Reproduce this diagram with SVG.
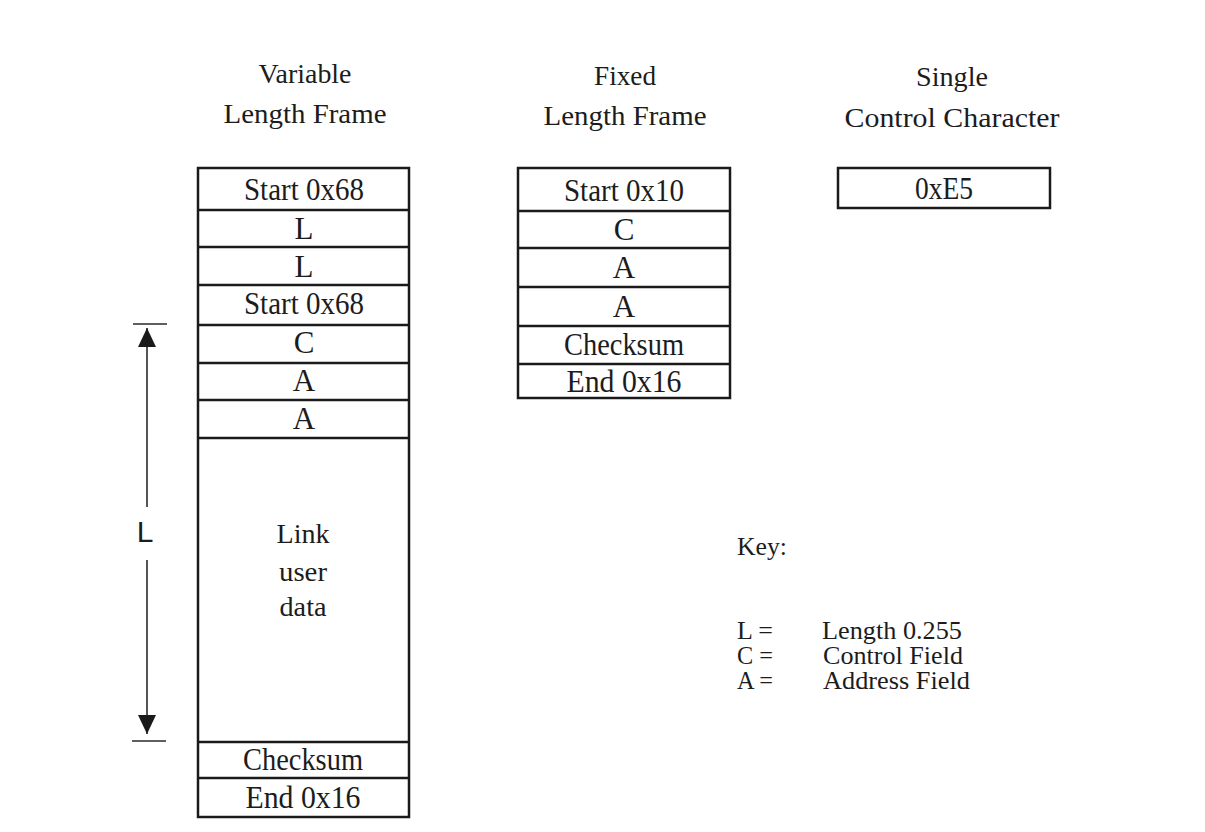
<svg xmlns="http://www.w3.org/2000/svg" width="1205" height="832" viewBox="0 0 1205 832">
  <style>
    .frame { fill: #ffffff; stroke: #1a1a1a; stroke-width: 2.5; }
    .div { stroke: #1a1a1a; stroke-width: 2.4; fill: none; }
    .t { font-family: "Liberation Serif", "Times New Roman", serif; fill: #1c1c1c; text-anchor: middle; }
    .title { font-size: 28px; }
    .cell { font-size: 31px; }
    .data { font-size: 27px; }
    .key { font-family: "Liberation Serif", "Times New Roman", serif; fill: #1c1c1c; font-size: 25px; }
    .dim { stroke: #2a2a2a; stroke-width: 1.6; fill: none; }
  </style>
  <defs>
    <marker id="head" viewBox="0 0 19 18" refX="19" refY="9" markerWidth="19" markerHeight="18" markerUnits="userSpaceOnUse" orient="auto">
      <path d="M0,0 L19,9 L0,18 Z" fill="#1a1a1a"/>
    </marker>
  </defs>

  <rect width="1205" height="832" fill="#ffffff"/>

  <!-- Column titles -->
  <g id="title-variable">
    <text class="t title" x="305" y="83" textLength="93" lengthAdjust="spacingAndGlyphs">Variable</text>
    <text class="t title" x="305" y="123" textLength="163" lengthAdjust="spacingAndGlyphs">Length Frame</text>
  </g>
  <g id="title-fixed">
    <text class="t title" x="625" y="85" textLength="62" lengthAdjust="spacingAndGlyphs">Fixed</text>
    <text class="t title" x="625" y="125" textLength="163" lengthAdjust="spacingAndGlyphs">Length Frame</text>
  </g>
  <g id="title-single">
    <text class="t title" x="952" y="86" textLength="72" lengthAdjust="spacingAndGlyphs">Single</text>
    <text class="t title" x="952" y="127" textLength="215" lengthAdjust="spacingAndGlyphs">Control Character</text>
  </g>

  <!-- Variable length frame -->
  <g id="variable-frame">
    <rect class="frame" x="198" y="168" width="211" height="649"/>
    <line class="div" x1="198" y1="210" x2="409" y2="210"/>
    <line class="div" x1="198" y1="247" x2="409" y2="247"/>
    <line class="div" x1="198" y1="285" x2="409" y2="285"/>
    <line class="div" x1="198" y1="325" x2="409" y2="325"/>
    <line class="div" x1="198" y1="363" x2="409" y2="363"/>
    <line class="div" x1="198" y1="400" x2="409" y2="400"/>
    <line class="div" x1="198" y1="438" x2="409" y2="438"/>
    <line class="div" x1="198" y1="742" x2="409" y2="742"/>
    <line class="div" x1="198" y1="778" x2="409" y2="778"/>
    <text class="t cell" x="304" y="200" textLength="120" lengthAdjust="spacingAndGlyphs">Start 0x68</text>
    <text class="t cell" x="304" y="239">L</text>
    <text class="t cell" x="304" y="277">L</text>
    <text class="t cell" x="304" y="314" textLength="120" lengthAdjust="spacingAndGlyphs">Start 0x68</text>
    <text class="t cell" x="304" y="353">C</text>
    <text class="t cell" x="304" y="391">A</text>
    <text class="t cell" x="304" y="429">A</text>
    <text class="t data" x="303" y="543" textLength="53" lengthAdjust="spacingAndGlyphs">Link</text>
    <text class="t data" x="303" y="581" textLength="48" lengthAdjust="spacingAndGlyphs">user</text>
    <text class="t data" x="303" y="616" textLength="47" lengthAdjust="spacingAndGlyphs">data</text>
    <text class="t cell" x="303" y="770" textLength="120" lengthAdjust="spacingAndGlyphs">Checksum</text>
    <text class="t cell" x="303" y="808" textLength="115" lengthAdjust="spacingAndGlyphs">End 0x16</text>
  </g>

  <!-- Fixed length frame -->
  <g id="fixed-frame">
    <rect class="frame" x="518" y="168" width="212" height="230"/>
    <line class="div" x1="518" y1="211" x2="730" y2="211"/>
    <line class="div" x1="518" y1="248" x2="730" y2="248"/>
    <line class="div" x1="518" y1="287" x2="730" y2="287"/>
    <line class="div" x1="518" y1="326" x2="730" y2="326"/>
    <line class="div" x1="518" y1="364" x2="730" y2="364"/>
    <text class="t cell" x="624" y="201" textLength="120" lengthAdjust="spacingAndGlyphs">Start 0x10</text>
    <text class="t cell" x="624" y="240">C</text>
    <text class="t cell" x="624" y="278">A</text>
    <text class="t cell" x="624" y="317">A</text>
    <text class="t cell" x="624" y="355" textLength="120" lengthAdjust="spacingAndGlyphs">Checksum</text>
    <text class="t cell" x="624" y="392" textLength="115" lengthAdjust="spacingAndGlyphs">End 0x16</text>
  </g>

  <!-- Single control character -->
  <g id="single-char">
    <rect class="frame" x="838" y="168" width="212" height="40"/>
    <text class="t cell" x="944" y="199" textLength="58" lengthAdjust="spacingAndGlyphs">0xE5</text>
  </g>

  <!-- Length span of the variable frame -->
  <g id="length-span">
    <line class="dim" x1="133" y1="324" x2="167" y2="324"/>
    <line class="dim" x1="132" y1="741" x2="166" y2="741"/>
    <line class="dim" x1="147" y1="507" x2="147" y2="328" marker-end="url(#head)"/>
    <line class="dim" x1="147" y1="560" x2="147" y2="734" marker-end="url(#head)"/>
    <text x="145" y="542" font-family="Liberation Sans, Arial, sans-serif" font-size="30" fill="#1c1c1c" text-anchor="middle">L</text>
  </g>

  <!-- Key -->
  <g id="key">
    <text class="key" x="737" y="555" textLength="50" lengthAdjust="spacingAndGlyphs">Key:</text>
    <text class="key" x="737" y="639" textLength="36" lengthAdjust="spacingAndGlyphs">L =</text>
    <text class="key" x="822" y="639" textLength="140" lengthAdjust="spacingAndGlyphs">Length 0.255</text>
    <text class="key" x="737" y="664" textLength="36" lengthAdjust="spacingAndGlyphs">C =</text>
    <text class="key" x="823" y="664" textLength="140" lengthAdjust="spacingAndGlyphs">Control Field</text>
    <text class="key" x="737" y="689" textLength="36" lengthAdjust="spacingAndGlyphs">A =</text>
    <text class="key" x="823" y="689" textLength="147" lengthAdjust="spacingAndGlyphs">Address Field</text>
  </g>
</svg>
